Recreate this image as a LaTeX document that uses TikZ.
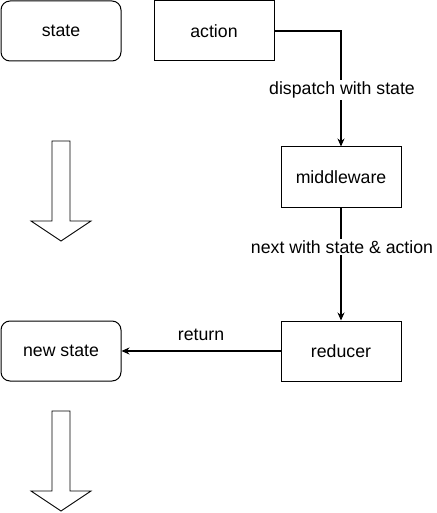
\documentclass[tikz,border=0pt]{standalone}
\usepackage{fontspec}
\setmainfont{Liberation Sans}
\usetikzlibrary{arrows.meta}
\begin{document}
\begin{tikzpicture}[x=1pt,y=-1pt,
  box/.style={draw,line width=1pt,minimum width=120pt,minimum height=60pt,inner sep=0pt,font=\fontsize{17.7}{20}\selectfont},
  rbox/.style={box,rounded corners=9pt},
  conn/.style={line width=1.4pt,-{Stealth[length=8pt,width=7pt]}},
  lbl/.style={fill=white,inner sep=1.5pt,font=\fontsize{17.7}{20}\selectfont},
  barrow/.style={draw,line width=0.9pt}]
\useasboundingbox (0,0) rectangle (436,513);
\node[rbox] (state) at (61,31) {state};
\node[box] (action) at (214,31) {action};
\node[box] (mw) at (341,177) {middleware};
\node[box] (red) at (341,351) {reducer};
\node[rbox] (ns) at (61,351) {new state};
\coordinate (c1) at (341,31);
\draw[conn] (action.east) -- (c1) -- (mw.north);
\node[lbl] (l1) at (342,90) {dispatch with state};
\draw[conn] (mw.south) -- (red.north);
\node[lbl] (l2) at (342,247) {next with state \& action};
\draw[conn] (red.west) -- (ns.east);
\node[lbl,fill=none] (l3) at (201,335) {return};
\draw[barrow] (52,141) -- (70,141) -- (70,221) -- (91,221) -- (61,241) -- (31,221) -- (52,221) -- cycle;
\draw[barrow] (52,411) -- (70,411) -- (70,491) -- (91,491) -- (61,511) -- (31,491) -- (52,491) -- cycle;
\end{tikzpicture}
\end{document}
